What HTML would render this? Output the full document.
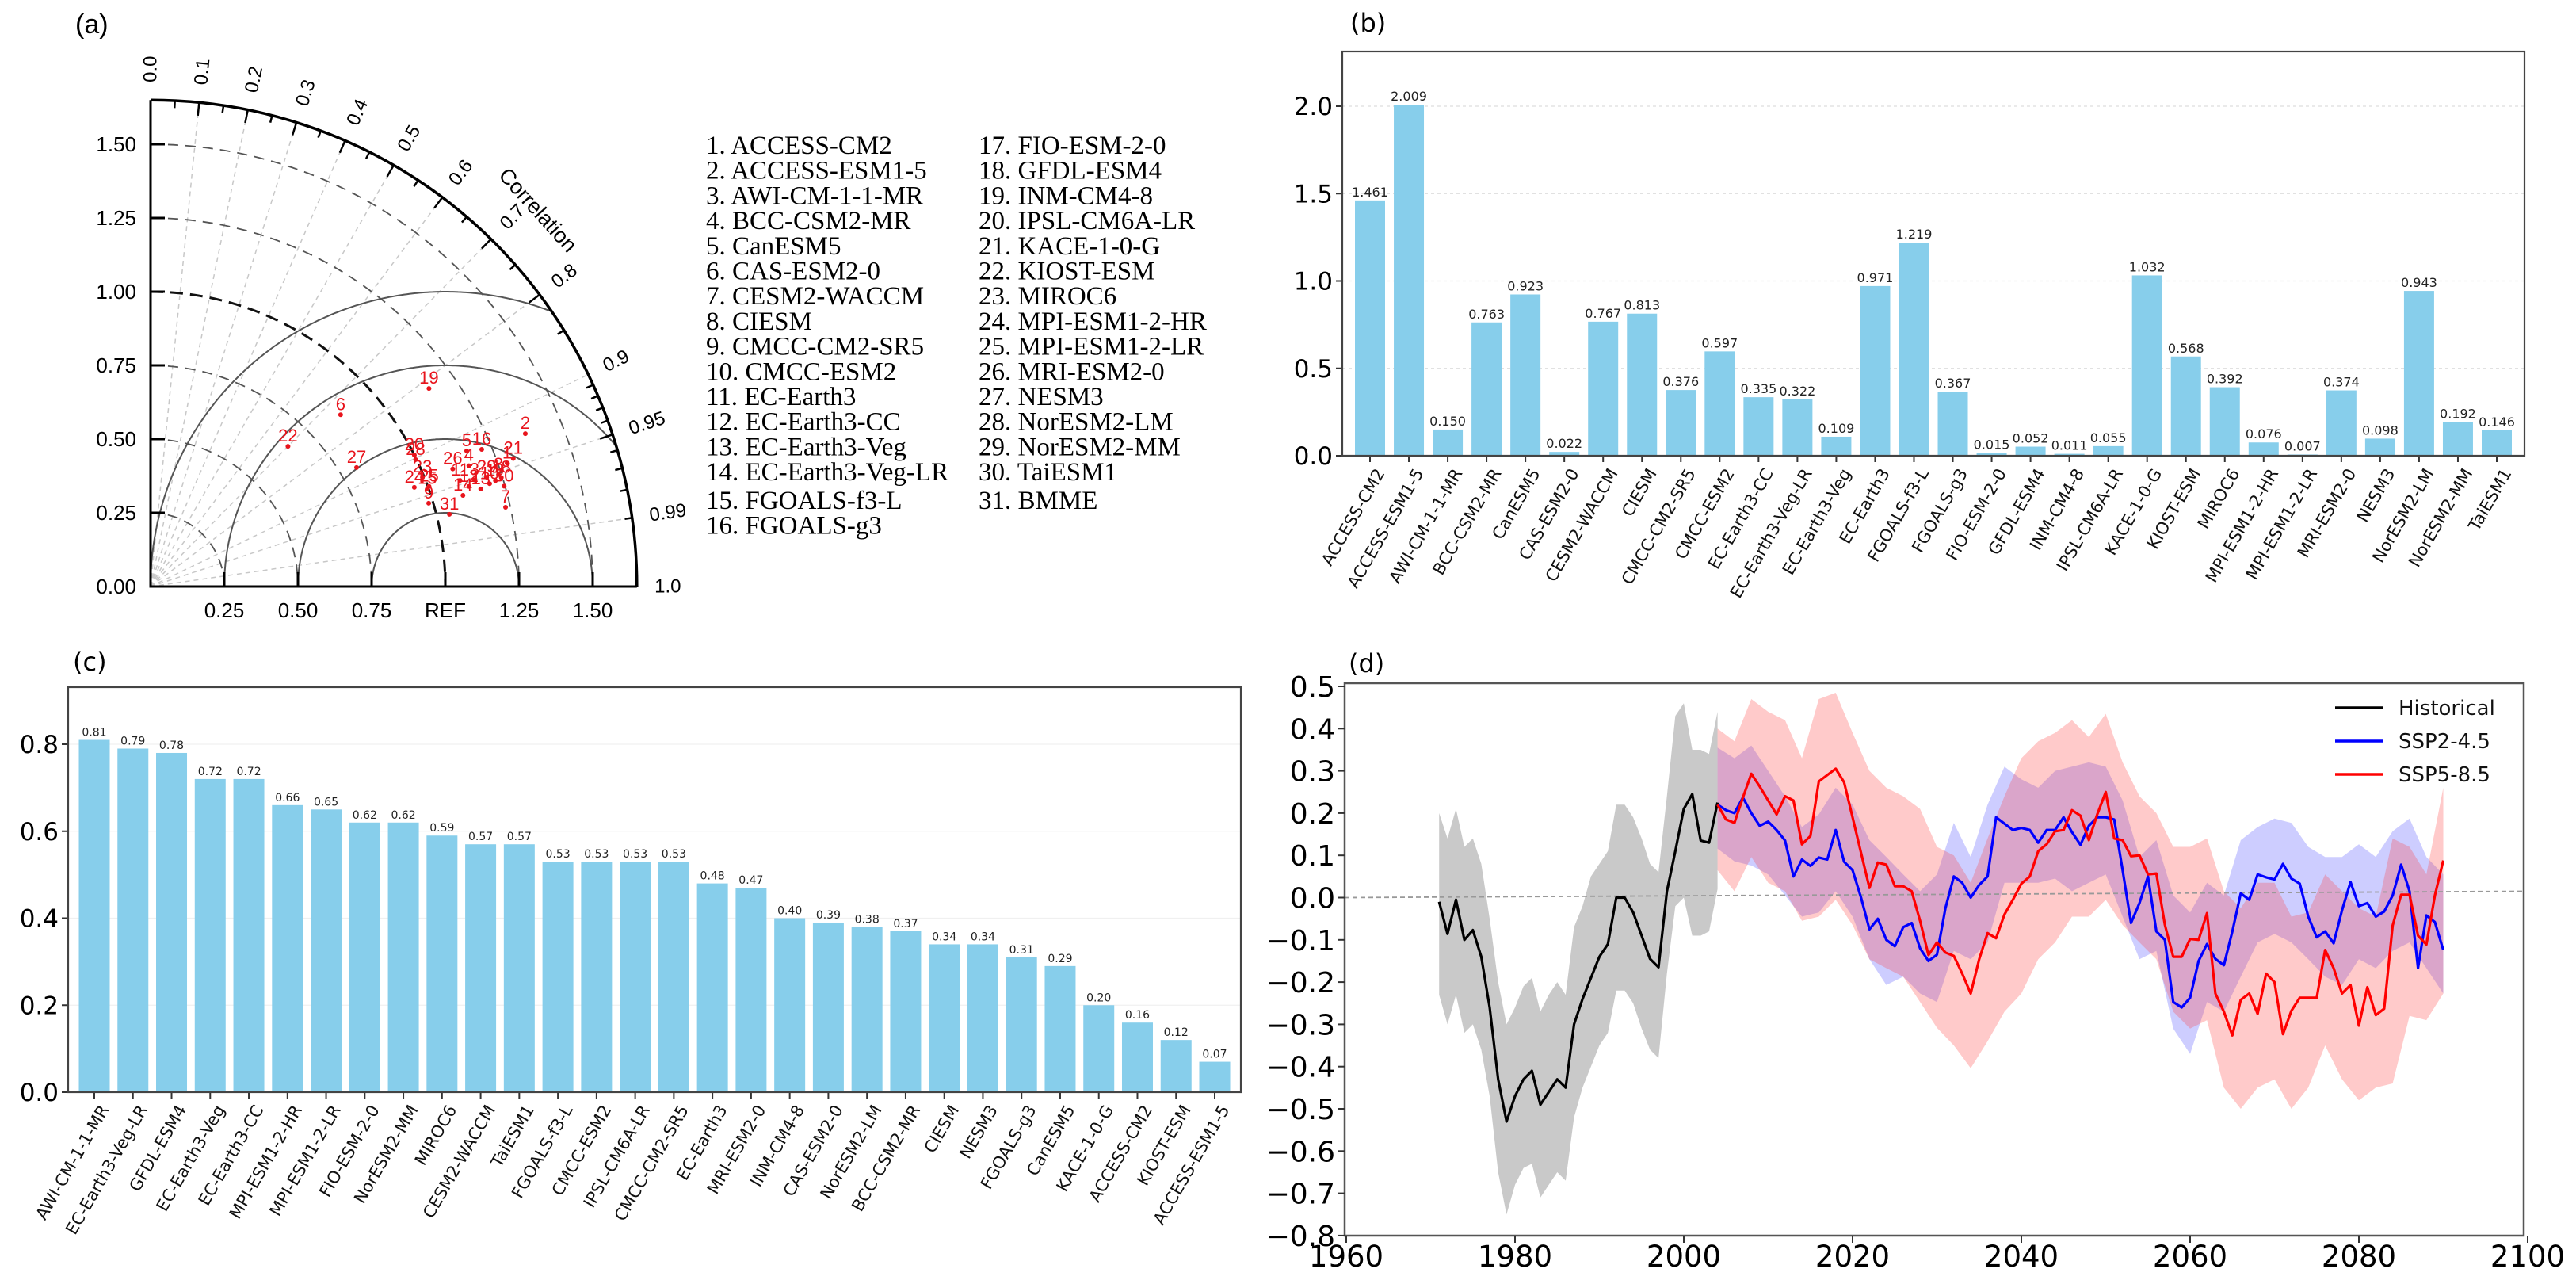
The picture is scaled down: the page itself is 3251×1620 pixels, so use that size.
<!DOCTYPE html>
<html><head><meta charset="utf-8"><style>
html,body{margin:0;padding:0;background:#fff;}
svg{display:block;font-family:"Liberation Sans",sans-serif;}
.dv{font-family:"DejaVu Sans","Liberation Sans",sans-serif;}
</style></head><body>
<svg id="fig" width="3251" height="1620" viewBox="0 0 3251 1620" xmlns="http://www.w3.org/2000/svg">
<rect width="3251" height="1620" fill="#fff"/>
<g id="pa"></g>
<g id="pb" class="dv"></g>
<g id="pc" class="dv"></g>
<g id="pd" class="dv"></g>
</svg>
<script>
// ---------- data ----------
const taylorIds=[1,2,3,4,5,6,7,8,9,10,11,12,13,14,15,16,17,18,19,20,21,22,23,24,25,26,27,28,29,30,31];
const taylorStd=[1.28,1.373,1.157,1.155,1.167,0.869,1.234,1.24,0.985,1.202,1.11,1.132,1.168,1.104,0.996,1.216,1.224,1.246,1.159,1.0,1.305,0.666,0.994,0.956,1.004,1.10,0.807,0.997,1.199,1.247,1.043];
const taylorCorr=[0.945,0.926,0.950,0.935,0.919,0.742,0.976,0.952,0.958,0.957,0.946,0.954,0.959,0.960,0.943,0.924,0.956,0.955,0.815,0.895,0.943,0.70,0.928,0.936,0.941,0.932,0.866,0.902,0.951,0.962,0.972];
const legendModels=["ACCESS-CM2","ACCESS-ESM1-5","AWI-CM-1-1-MR","BCC-CSM2-MR","CanESM5","CAS-ESM2-0","CESM2-WACCM","CIESM","CMCC-CM2-SR5","CMCC-ESM2","EC-Earth3","EC-Earth3-CC","EC-Earth3-Veg","EC-Earth3-Veg-LR","FGOALS-f3-L","FGOALS-g3","FIO-ESM-2-0","GFDL-ESM4","INM-CM4-8","IPSL-CM6A-LR","KACE-1-0-G","KIOST-ESM","MIROC6","MPI-ESM1-2-HR","MPI-ESM1-2-LR","MRI-ESM2-0","NESM3","NorESM2-LM","NorESM2-MM","TaiESM1","BMME"];
const corrTicks=[0.0,0.1,0.2,0.3,0.4,0.5,0.6,0.7,0.8,0.9,0.95,0.99];
const stdTicks=[0.25,0.5,0.75,1.0,1.25,1.5];

const bCats=["ACCESS-CM2","ACCESS-ESM1-5","AWI-CM-1-1-MR","BCC-CSM2-MR","CanESM5","CAS-ESM2-0","CESM2-WACCM","CIESM","CMCC-CM2-SR5","CMCC-ESM2","EC-Earth3-CC","EC-Earth3-Veg-LR","EC-Earth3-Veg","EC-Earth3","FGOALS-f3-L","FGOALS-g3","FIO-ESM-2-0","GFDL-ESM4","INM-CM4-8","IPSL-CM6A-LR","KACE-1-0-G","KIOST-ESM","MIROC6","MPI-ESM1-2-HR","MPI-ESM1-2-LR","MRI-ESM2-0","NESM3","NorESM2-LM","NorESM2-MM","TaiESM1"];
const bVals=[1.461,2.009,0.150,0.763,0.923,0.022,0.767,0.813,0.376,0.597,0.335,0.322,0.109,0.971,1.219,0.367,0.015,0.052,0.011,0.055,1.032,0.568,0.392,0.076,0.007,0.374,0.098,0.943,0.192,0.146];
const bTicks=[0.0,0.5,1.0,1.5,2.0];

const cCats=["AWI-CM-1-1-MR","EC-Earth3-Veg-LR","GFDL-ESM4","EC-Earth3-Veg","EC-Earth3-CC","MPI-ESM1-2-HR","MPI-ESM1-2-LR","FIO-ESM-2-0","NorESM2-MM","MIROC6","CESM2-WACCM","TaiESM1","FGOALS-f3-L","CMCC-ESM2","IPSL-CM6A-LR","CMCC-CM2-SR5","EC-Earth3","MRI-ESM2-0","INM-CM4-8","CAS-ESM2-0","NorESM2-LM","BCC-CSM2-MR","CIESM","NESM3","FGOALS-g3","CanESM5","KACE-1-0-G","ACCESS-CM2","KIOST-ESM","ACCESS-ESM1-5"];
const cVals=[0.81,0.79,0.78,0.72,0.72,0.66,0.65,0.62,0.62,0.59,0.57,0.57,0.53,0.53,0.53,0.53,0.48,0.47,0.40,0.39,0.38,0.37,0.34,0.34,0.31,0.29,0.20,0.16,0.12,0.07];
const cTicks=[0.0,0.2,0.4,0.6,0.8];

const histYears=[1971,1972,1973,1974,1975,1976,1977,1978,1979,1980,1981,1982,1983,1984,1985,1986,1987,1988,1989,1990,1991,1992,1993,1994,1995,1996,1997,1998,1999,2000,2001,2002,2003,2004];
const histMean=[-0.01,-0.086,-0.005,-0.10,-0.077,-0.14,-0.26,-0.43,-0.53,-0.47,-0.43,-0.41,-0.49,-0.46,-0.43,-0.45,-0.30,-0.24,-0.19,-0.14,-0.11,0.0,0.0,-0.035,-0.09,-0.145,-0.165,0.015,0.11,0.21,0.245,0.135,0.13,0.225];
const histUpper=[0.20,0.14,0.21,0.12,0.14,0.08,-0.05,-0.20,-0.30,-0.26,-0.21,-0.19,-0.27,-0.23,-0.20,-0.23,-0.07,-0.02,0.05,0.08,0.11,0.22,0.22,0.19,0.14,0.08,0.06,0.24,0.43,0.46,0.35,0.35,0.34,0.44];
const histLower=[-0.23,-0.30,-0.23,-0.32,-0.30,-0.36,-0.47,-0.65,-0.75,-0.68,-0.64,-0.63,-0.71,-0.68,-0.65,-0.67,-0.52,-0.45,-0.40,-0.35,-0.32,-0.22,-0.22,-0.25,-0.31,-0.36,-0.38,-0.18,-0.02,0.0,-0.09,-0.09,-0.08,0.02];

const sspYears=[2004,2005,2006,2007,2008,2009,2010,2011,2012,2013,2014,2015,2016,2017,2018,2019,2020,2021,2022,2023,2024,2025,2026,2027,2028,2029,2030,2031,2032,2033,2034,2035,2036,2037,2038,2039,2040,2041,2042,2043,2044,2045,2046,2047,2048,2049,2050,2051,2052,2053,2054,2055,2056,2057,2058,2059,2060,2061,2062,2063,2064,2065,2066,2067,2068,2069,2070,2071,2072,2073,2074,2075,2076,2077,2078,2079,2080,2081,2082,2083,2084,2085,2086,2087,2088,2089,2090];
const ssp245=[0.22,0.207,0.20,0.237,0.20,0.17,0.18,0.16,0.135,0.05,0.09,0.075,0.095,0.09,0.16,0.085,0.065,0.0,-0.075,-0.05,-0.10,-0.115,-0.07,-0.06,-0.12,-0.15,-0.135,-0.025,0.05,0.035,0.0,0.03,0.05,0.19,0.175,0.16,0.165,0.16,0.13,0.16,0.16,0.19,0.155,0.125,0.17,0.19,0.19,0.185,0.065,-0.06,-0.013,0.05,-0.08,-0.10,-0.247,-0.26,-0.237,-0.15,-0.11,-0.145,-0.16,-0.08,0.01,-0.005,0.055,0.048,0.043,0.08,0.045,0.033,-0.045,-0.094,-0.08,-0.108,-0.03,0.037,-0.02,-0.013,-0.045,-0.033,0.005,0.078,0.015,-0.167,-0.042,-0.058,-0.124];
const ssp585=[0.22,0.185,0.177,0.237,0.293,0.263,0.23,0.197,0.24,0.23,0.126,0.146,0.275,0.29,0.305,0.273,0.19,0.106,0.023,0.083,0.078,0.027,0.027,0.015,-0.055,-0.136,-0.106,-0.13,-0.138,-0.18,-0.227,-0.146,-0.084,-0.096,-0.04,-0.005,0.033,0.05,0.11,0.126,0.157,0.16,0.207,0.194,0.136,0.197,0.25,0.14,0.136,0.098,0.10,0.055,0.057,-0.064,-0.14,-0.14,-0.098,-0.10,-0.037,-0.227,-0.27,-0.326,-0.242,-0.227,-0.275,-0.18,-0.20,-0.323,-0.268,-0.237,-0.237,-0.237,-0.124,-0.167,-0.227,-0.207,-0.303,-0.212,-0.278,-0.263,-0.066,0.007,0.007,-0.09,-0.111,0.005,0.088];
const bandYears=[2004,2006,2008,2010,2012,2014,2016,2018,2020,2022,2024,2026,2028,2030,2032,2034,2036,2038,2040,2042,2044,2046,2048,2050,2052,2054,2056,2058,2060,2062,2064,2066,2068,2070,2072,2074,2076,2078,2080,2082,2084,2086,2088,2090];
const ssp585Upper=[0.40,0.37,0.47,0.44,0.42,0.33,0.47,0.485,0.39,0.30,0.26,0.24,0.21,0.12,0.10,0.035,0.14,0.24,0.33,0.37,0.39,0.42,0.38,0.435,0.32,0.24,0.20,0.12,0.12,0.14,0.015,-0.025,0.035,0.035,-0.045,-0.035,0.055,0.015,-0.025,-0.045,0.14,0.12,0.055,0.26];
const ssp585Lower=[0.065,0.015,0.096,0.035,0.015,-0.055,-0.045,-0.005,-0.065,-0.146,-0.167,-0.187,-0.247,-0.308,-0.35,-0.404,-0.34,-0.27,-0.227,-0.146,-0.106,-0.045,-0.045,-0.005,-0.065,-0.106,-0.146,-0.27,-0.31,-0.29,-0.45,-0.50,-0.45,-0.43,-0.50,-0.45,-0.35,-0.43,-0.48,-0.45,-0.44,-0.28,-0.29,-0.227];
const ssp245Upper=[0.355,0.33,0.36,0.30,0.24,0.167,0.197,0.26,0.22,0.136,0.096,0.055,0.015,0.055,0.177,0.096,0.22,0.31,0.28,0.26,0.30,0.31,0.32,0.31,0.23,0.096,0.136,0.005,-0.035,0.035,0.005,0.136,0.167,0.187,0.177,0.12,0.096,0.096,0.126,0.096,0.157,0.187,0.096,0.055];
const ssp245Lower=[0.116,0.086,0.076,0.055,0.005,-0.045,-0.035,0.015,-0.045,-0.146,-0.207,-0.187,-0.227,-0.247,-0.126,-0.146,-0.106,0.035,0.035,0.035,0.045,0.015,0.035,0.055,-0.045,-0.146,-0.126,-0.31,-0.37,-0.247,-0.27,-0.187,-0.106,-0.086,-0.106,-0.146,-0.187,-0.207,-0.146,-0.167,-0.126,-0.106,-0.167,-0.227];
const dYTicks=[0.5,0.4,0.3,0.2,0.1,0.0,-0.1,-0.2,-0.3,-0.4,-0.5,-0.6,-0.7,-0.8];
const dXTicks=[1960,1980,2000,2020,2040,2060,2080,2100];

// ---------- helpers ----------
const NS="http://www.w3.org/2000/svg";
function mk(parent,tag,attrs,text){const e=document.createElementNS(NS,tag);for(const k in attrs)e.setAttribute(k,attrs[k]);if(text!==undefined)e.textContent=text;parent.appendChild(e);return e;}
const fmt1=v=>(v<0?"\u2212":"")+Math.abs(v).toFixed(1);

// ---------- panel a: Taylor ----------
(function(){
const g=document.getElementById('pa');
const ox=190,oy=740,s=372,R=1.65;
const P=(r,c)=>{const t=Math.acos(Math.max(-1,Math.min(1,c)));return [ox+r*Math.cos(t)*s,oy-r*Math.sin(t)*s];};
let t=mk(g,'text',{x:95,y:42,'font-size':34},'(a)');

corrTicks.forEach(c=>{if(c===0)return;const p=P(R,c);let l=mk(g,'line',{x1:ox,y1:oy,x2:p[0],y2:p[1],stroke:'#c8c8c8','stroke-width':1.5,'stroke-dasharray':'6,5'});
});
stdTicks.forEach(r=>{const bold=r===1.0;let a=mk(g,'path',{d:`M${ox},${oy-r*s} A${r*s},${r*s} 0 0 1 ${ox+r*s},${oy}`,fill:'none',stroke:bold?'#111':'#555','stroke-width':bold?3:1.8,'stroke-dasharray':bold?'16,9':'13,9'});
});
[0.25,0.5,0.75,1.0].forEach(k=>{let pts=[];for(let i=0;i<=360;i++){const ph=Math.PI*i/360;const x=1+k*Math.cos(ph),y=k*Math.sin(ph);if(Math.hypot(x,y)<=R&&x>=0)pts.push((ox+x*s).toFixed(1)+','+(oy-y*s).toFixed(1));}
let pl=mk(g,'polyline',{points:pts.join(' '),fill:'none',stroke:'#555','stroke-width':2});
});
let oa=mk(g,'path',{d:`M${ox},${oy-R*s} A${R*s},${R*s} 0 0 1 ${ox+R*s},${oy}`,fill:'none',stroke:'#000','stroke-width':3.5});

let ax=mk(g,'path',{d:`M${ox},${oy-R*s} L${ox},${oy} L${ox+R*s},${oy}`,fill:'none',stroke:'#000','stroke-width':3});

for(let c=0.05;c<0.9;c+=0.05){const a=P(R,c),b=P(R-(Math.round(c*100)%10===0?0.045:0.025),c);mk(g,'line',{x1:a[0],y1:a[1],x2:b[0],y2:b[1],stroke:'#000','stroke-width':2.5});}
for(let c=0.91;c<1;c+=0.01){const a=P(R,c),b=P(R-(Math.abs(c-0.95)<0.001?0.045:0.025),c);mk(g,'line',{x1:a[0],y1:a[1],x2:b[0],y2:b[1],stroke:'#000','stroke-width':2.5});}
corrTicks.concat([1.0]).forEach(c=>{const p=P(R+0.06,c);const deg=Math.acos(c)*180/Math.PI;
let tx=mk(g,'text',{x:p[0],y:p[1],'font-size':24,'dominant-baseline':'central',transform:`rotate(${-deg},${p[0]},${p[1]})`},c===1?'1.0':String(c.toFixed(c>=0.95&&c<1?2:1)));
});
let cl=mk(g,'text',{x:628,y:222,'font-size':27,transform:'rotate(48,628,222)'},'Correlation');

[0,0.25,0.5,0.75,1.0,1.25,1.5].forEach(v=>{const y=oy-v*s;mk(g,'line',{x1:ox,y1:y,x2:ox+18,y2:y,stroke:'#000','stroke-width':3});
let tx=mk(g,'text',{x:172,y:y+9,'font-size':26,'text-anchor':'end'},v.toFixed(2));
});
[0.25,0.5,0.75,1.0,1.25,1.5].forEach(v=>{const x=ox+v*s;mk(g,'line',{x1:x,y1:oy,x2:x,y2:oy-18,stroke:'#000','stroke-width':3});
let tx=mk(g,'text',{x:x,y:779,'font-size':26,'text-anchor':'middle'},v===1?'REF':v.toFixed(2));
});
taylorIds.forEach((id,i)=>{const p=P(taylorStd[i],taylorCorr[i]);
let d=mk(g,'circle',{cx:p[0],cy:p[1],r:3,fill:'#e8141c'});

let tx=mk(g,'text',{x:p[0],y:p[1]-6,'font-size':22,fill:'#e8141c','text-anchor':'middle'},String(id));
});
legendModels.forEach((m,i)=>{const col=i<16?0:1,row=i<16?i:i-16;
let tx=mk(g,'text',{x:col?1235:891,y:194+row*31.7+(row>=14?4:0),'font-size':33,'font-family':'"Liberation Serif",serif'},(i+1)+'. '+m);
});
})();

// ---------- bar chart helper ----------
function barChart(g,cfg){
const {L,R,T,B,vmax,cats,vals,ticks,first,bw,tickFont,catFont,valFont,dec,grid,lbl}=cfg;
const yS=v=>B-v/vmax*(B-T);
const step=(R-L-2*first)/(cats.length-1);
const xS=i=>L+first+i*step;
let tl=mk(g,'text',{x:lbl[0],y:lbl[1],'font-size':32},lbl[2]);

ticks.forEach(v=>{if(v>0){let gl=mk(g,'line',{x1:L,y1:yS(v),x2:R,y2:yS(v),stroke:grid,'stroke-width':1.2,'stroke-dasharray':cfg.dash||''});}
mk(g,'line',{x1:L-8,y1:yS(v),x2:L,y2:yS(v),stroke:'#333','stroke-width':2});
let tx=mk(g,'text',{x:L-12,y:yS(v)+tickFont*0.36,'font-size':tickFont,'text-anchor':'end'},v.toFixed(1));
});
vals.forEach((v,i)=>{const x=xS(i);
let r=mk(g,'rect',{x:x-bw/2,y:yS(v),width:bw,height:B-yS(v),fill:'#87ceeb'});

let vt=mk(g,'text',{x:x,y:yS(v)-5,'font-size':valFont,'text-anchor':'middle',fill:'#222'},v.toFixed(dec));

mk(g,'line',{x1:x,y1:B,x2:x,y2:B+8,stroke:'#333','stroke-width':2});
const ty=B+14;
let ct=mk(g,'text',{x:x+6,y:ty,'font-size':catFont,'text-anchor':'end','dominant-baseline':'hanging',fill:'#111',transform:`rotate(-60,${x+6},${ty})`},cats[i]);
});
let fr=mk(g,'rect',{x:L,y:T,width:R-L,height:B-T,fill:'none',stroke:'#444','stroke-width':2.2});

}
barChart(document.getElementById('pb'),{L:1694,R:3186,T:65,B:575,vmax:(575-65)/220.5,cats:bCats,vals:bVals,ticks:bTicks,first:35,bw:38,tickFont:31,catFont:21,valFont:16,dec:3,grid:'#ddd',dash:'4,4',lbl:[1704,40,'(b)']});
barChart(document.getElementById('pc'),{L:86,R:1566,T:867,B:1378,vmax:(1378-867)/548.75,cats:cCats,vals:cVals,ticks:cTicks,first:33,bw:39,tickFont:31,catFont:21,valFont:14,dec:2,grid:'#f0f0f0',lbl:[92,846,'(c)']});

// ---------- panel d ----------
(function(){
const g=document.getElementById('pd');
const L=1697,R=3185,T=862,B=1559;
const xS=y=>1699+(y-1960)*10.65;
const yS=v=>1132.5-v*533;
let tl=mk(g,'text',{x:1702,y:848,'font-size':32},'(d)');

function band(xs,up,lo,fill,name){let d='M'+xs.map((x,i)=>xS(x).toFixed(1)+','+yS(up[i]).toFixed(1)).join(' L');
for(let i=xs.length-1;i>=0;i--)d+=' L'+xS(xs[i]).toFixed(1)+','+yS(lo[i]).toFixed(1);
let p=mk(g,'path',{d:d+'Z',fill:fill,stroke:'none'});}
function line(xs,vs,col,name){let p=mk(g,'polyline',{points:xs.map((x,i)=>xS(x).toFixed(1)+','+yS(vs[i]).toFixed(1)).join(' '),fill:'none',stroke:col,'stroke-width':3.2,'stroke-linejoin':'round'});
}
band(histYears,histUpper,histLower,'#c9c9c9','historical-range-band');
band(bandYears,ssp245Upper,ssp245Lower,'rgba(90,90,255,0.30)','ssp245-range-band');
band(bandYears,ssp585Upper,ssp585Lower,'rgba(255,60,60,0.27)','ssp585-range-band');
let z=mk(g,'line',{x1:L,y1:yS(0),x2:R,y2:yS(0)-8,stroke:'#999','stroke-width':1.8,'stroke-dasharray':'6,4'});

line(histYears,histMean,'#000','historical-line');
line(sspYears,ssp245,'#0000ff','ssp245-line');
line(sspYears,ssp585,'#ff0000','ssp585-line');
let fr=mk(g,'rect',{x:L,y:T,width:R-L,height:B-T,fill:'none',stroke:'#555','stroke-width':2.5});

dYTicks.forEach(v=>{const y=yS(v);mk(g,'line',{x1:L-9,y1:y,x2:L,y2:y,stroke:'#333','stroke-width':2});
let tx=mk(g,'text',{x:L-12,y:y+13,'font-size':36,'text-anchor':'end'},fmt1(v));
});
dXTicks.forEach(v=>{const x=xS(v);mk(g,'line',{x1:x,y1:B,x2:x,y2:B+9,stroke:'#333','stroke-width':2});
let tx=mk(g,'text',{x:x,y:1598,'font-size':37,'text-anchor':'middle'},String(v));
});
const names=['Historical','SSP2-4.5','SSP5-8.5'],cols=['#000','#0000ff','#ff0000'];
names.forEach((n,i)=>{const y=893+i*42;
let ln=mk(g,'line',{x1:2947,y1:y,x2:3007,y2:y,stroke:cols[i],'stroke-width':3.5});

let tx=mk(g,'text',{x:3027,y:y+9,'font-size':26,fill:'#111'},n);
});
})();
</script>
</body></html>
